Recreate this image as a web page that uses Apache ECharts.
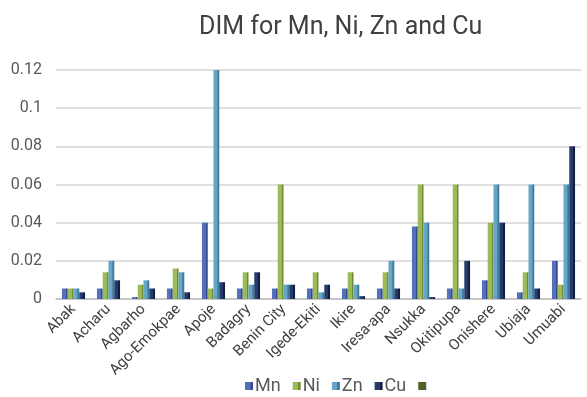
<!DOCTYPE html>
<html>
<head>
<meta charset="utf-8">
<script src="https://cdn.jsdelivr.net/npm/echarts@6/dist/echarts.min.js"></script>
<style>
  html, body { margin: 0; padding: 0; background: #fff; }
  #chart { width: 587px; height: 397px; }
</style>
</head>
<body>
<div id="chart"></div>
<script>
// Sampling sites
const sites = ['Abak', 'Acharu', 'Agbarho', 'Ago-Emokpae', 'Apoje', 'Badagry', 'Benin City',
  'Igede-Ekiti', 'Ikire', 'Iresa-apa', 'Nsukka', 'Okitipupa', 'Onishere', 'Ubiaja', 'Umuabi'];

// DIM values per metal
const mn = [0.0055, 0.0055, 0.001, 0.0055, 0.04, 0.0055, 0.0055, 0.0055, 0.0055, 0.0055, 0.038, 0.0055, 0.0098, 0.0035, 0.02];
const ni = [0.0055, 0.014, 0.0075, 0.016, 0.0055, 0.014, 0.06, 0.014, 0.014, 0.014, 0.06, 0.06, 0.04, 0.014, 0.0075];
const zn = [0.0055, 0.02, 0.0098, 0.014, 0.12, 0.0075, 0.0075, 0.0035, 0.0075, 0.02, 0.04, 0.0055, 0.06, 0.06, 0.06];
const cu = [0.0035, 0.0098, 0.0055, 0.0035, 0.0088, 0.014, 0.0075, 0.0075, 0.0015, 0.0055, 0.001, 0.02, 0.04, 0.0055, 0.08];

// Axis ticks
const yTicks = { min: 0, max: 0.12, interval: 0.02 };

const FONT = '"Roboto", "Liberation Sans", sans-serif';

function shaded(base, dark) {
  return {
    type: 'linear', x: 0, y: 0, x2: 1, y2: 0,
    colorStops: [
      { offset: 0, color: base },
      { offset: 0.68, color: base },
      { offset: 0.7, color: dark },
      { offset: 1, color: dark }
    ]
  };
}

const palette = [
  { name: 'Mn', data: mn, base: '#5470bd', dark: '#34498a' },
  { name: 'Ni', data: ni, base: '#9bbb59', dark: '#6e8a36' },
  { name: 'Zn', data: zn, base: '#67a6c6', dark: '#3e7a99' },
  { name: 'Cu', data: cu, base: '#263a6b', dark: '#141f40' }
];

const series = palette.map(p => ({
  name: p.name,
  type: 'bar',
  data: p.data,
  barGap: '0%',
  barCategoryGap: '34%',
  itemStyle: { color: shaded(p.base, p.dark) },
  emphasis: { disabled: true }
}));

// Extra legend entry with no data (a line series takes no bar slot)
series.push({
  name: ' ',
  type: 'line',
  data: [],
  itemStyle: { color: '#4f6228' },
  lineStyle: { color: '#4f6228' }
});

const chart = echarts.init(document.getElementById('chart'), null, { renderer: 'canvas' });
chart.setOption({
  animation: false,
  color: ['#5470bd', '#9bbb59', '#67a6c6', '#263a6b', '#4f6228'],
  title: {
    text: 'DIM for Mn, Ni, Zn and Cu',
    left: 194,
    top: 10,
    textStyle: { fontFamily: FONT, fontSize: 25, fontWeight: 'normal', color: '#404040' }
  },
  legend: {
    data: ['Mn', 'Ni', 'Zn', 'Cu', ' '],
    left: 240,
    top: 372,
    icon: 'rect',
    itemWidth: 8,
    itemHeight: 8,
    itemGap: 12,
    textStyle: { fontFamily: FONT, fontSize: 18, color: '#595959', padding: [0, 0, 0, -3] },
    selectedMode: false
  },
  grid: { left: 56, right: 6, top: 70, bottom: 98, containLabel: false },
  xAxis: {
    type: 'category',
    data: sites,
    axisLine: { lineStyle: { color: '#bfbfbf', width: 1.5 } },
    axisTick: { show: false },
    axisLabel: {
      rotate: 45,
      interval: 0,
      margin: 8,
      fontFamily: FONT,
      fontSize: 15,
      color: '#404040'
    }
  },
  yAxis: {
    type: 'value',
    min: yTicks.min,
    max: yTicks.max,
    interval: yTicks.interval,
    axisLine: { show: false },
    axisTick: { show: false },
    splitLine: { lineStyle: { color: '#d4d4d4', width: 1.5 } },
    axisLabel: {
      margin: 14,
      fontFamily: FONT,
      fontSize: 16,
      color: '#595959',
      formatter: v => String(parseFloat(v.toFixed(2)))
    }
  },
  series: series
});
</script>
</body>
</html>
